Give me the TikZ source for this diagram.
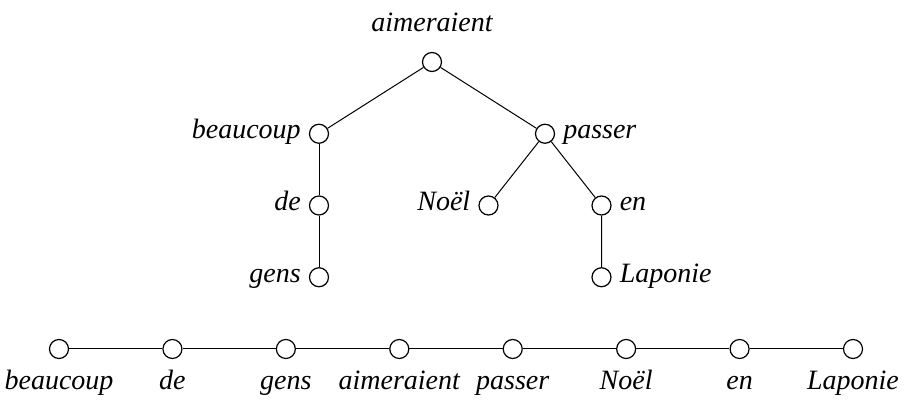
\documentclass[tikz,border=0pt]{standalone}
\usepackage{fontspec}
\setmainfont{Liberation Serif}
\begin{document}
\begin{tikzpicture}[x=0.5pt,y=-0.5pt,line width=0.5pt,
  wnode/.style={circle,draw,fill=white,minimum size=9.5pt,inner sep=0pt,line width=0.6pt},
  every label/.style={font=\fontsize{14}{16}\selectfont\itshape,text height=.7em,text depth=.2em},
  label distance=0.5pt]
\useasboundingbox (0,0) rectangle (905,405);
%%%%%dependency tree starts here
\def\xa{432}
\def\dx{113}
\def\dy{71.75}
\def\ya{62}

\node[wnode,label={[label distance=4.7pt]above:aimeraient}] (aim) at (\xa,\ya) {};
\node[wnode,label=left:beaucoup] (beau) at (\xa-\dx,\ya+\dy) {};
\node[wnode,label=right:passer] (pass) at (\xa+\dx,\ya+\dy) {};
\node[wnode,label=left:de] (de) at (\xa-\dx,\ya+2*\dy) {};
\node[wnode,label=left:Noël] (noel) at (\xa+.5*\dx,\ya+2*\dy) {};
\node[wnode,label=right:en] (en) at (\xa+1.5*\dx,\ya+2*\dy) {};
\node[wnode,label=left:gens] (gens) at (\xa-\dx,\ya+3*\dy) {};
\node[wnode,label=right:Laponie] (lap) at (\xa+1.5*\dx,\ya+3*\dy) {};

\draw (aim) -- (beau);
\draw (aim) -- (pass);
\draw (beau) -- (de) -- (gens);
\draw (pass) -- (noel);
\draw (pass) -- (en) -- (lap);
%%%%%dependency tree ends here

%%%%%word order starts here
\foreach \w [count=\i] in {beaucoup,de,gens,aimeraient,passer,Noël,en,Laponie}
 \node[wnode,label={[label distance=4.7pt]below:\w}] (w\i) at ({59+113.43*(\i-1)},\ya+4*\dy) {};
\foreach \i [evaluate=\i as \j using int(\i+1)] in {1,...,7}
 \draw (w\i) -- (w\j);
%%%%%word order ends here
\end{tikzpicture}
\end{document}
